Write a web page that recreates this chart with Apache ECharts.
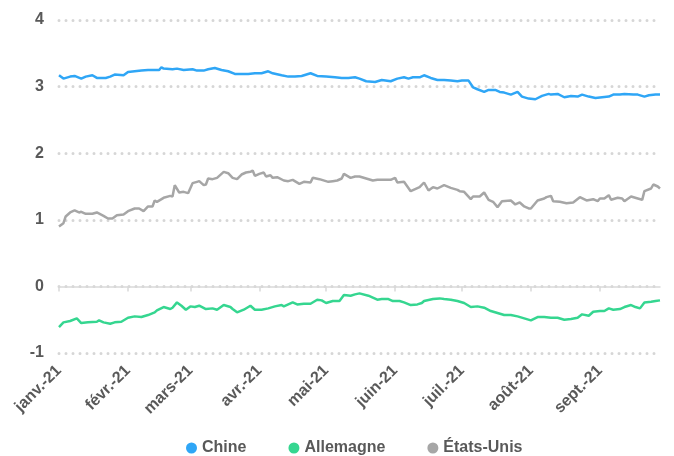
<!DOCTYPE html>
<html><head><meta charset="utf-8">
<script src="https://cdn.jsdelivr.net/npm/echarts@6/dist/echarts.min.js"></script>
<style>html,body{margin:0;padding:0;background:#fff}#c{width:674px;height:456px}</style>
</head><body><div id="c"></div>
<script>
const YEAR = 2021;
const seriesNames = ['Chine', 'Allemagne', 'États-Unis'];
const monthStarts = ['01-01','02-01','03-01','04-01','05-01','06-01','07-01','08-01','09-01'];
const tickLabels = ['janv.-21','févr.-21','mars-21','avr.-21','mai-21','juin-21','juil.-21','août-21','sept.-21'];
const xStart = '01-01', xEnd = '09-28';
const yTicks = [-1, 0, 1, 2, 3, 4];

const chineDates = ['01-01','01-03','01-06','01-08','01-11','01-13','01-16','01-18','01-22','01-24','01-26','01-30','02-01','02-04','02-07','02-10','02-13','02-15','02-16','02-17','02-21','02-23','02-26','03-02','03-04','03-07','03-09','03-12','03-15','03-18','03-21','03-24','03-27','03-30','04-02','04-05','04-07','04-11','04-14','04-17','04-20','04-24','04-27','05-01','05-05','05-08','05-11','05-14','05-16','05-19','05-23','05-26','05-30','06-02','06-05','06-07','06-09','06-12','06-14','06-17','06-20','06-23','06-26','06-29','07-01','07-04','07-06','07-08','07-11','07-13','07-16','07-18','07-20','07-23','07-26','07-28','07-31','08-03','08-06','08-09','08-10','08-13','08-16','08-19','08-22','08-24','08-27','08-30','09-02','09-05','09-07','09-10','09-12','09-16','09-18','09-21','09-23','09-26','09-28'];
const chineValues = [3.17,3.12,3.15,3.16,3.12,3.15,3.17,3.13,3.13,3.15,3.18,3.17,3.22,3.23,3.24,3.25,3.25,3.25,3.29,3.27,3.26,3.27,3.25,3.26,3.24,3.24,3.26,3.28,3.25,3.23,3.19,3.19,3.19,3.20,3.20,3.23,3.20,3.17,3.15,3.15,3.16,3.20,3.16,3.15,3.14,3.13,3.13,3.14,3.12,3.08,3.07,3.10,3.08,3.12,3.14,3.12,3.14,3.14,3.17,3.13,3.10,3.10,3.09,3.08,3.09,3.09,2.99,2.96,2.92,2.95,2.95,2.92,2.91,2.88,2.92,2.85,2.82,2.81,2.86,2.89,2.88,2.89,2.84,2.86,2.85,2.88,2.85,2.83,2.84,2.85,2.88,2.88,2.89,2.88,2.88,2.85,2.87,2.88,2.88];

const usDates = ['01-01','01-03','01-04','01-06','01-08','01-10','01-11','01-13','01-16','01-18','01-21','01-23','01-25','01-27','01-30','02-01','02-04','02-06','02-08','02-10','02-12','02-13','02-14','02-17','02-20','02-21','02-22','02-24','02-26','02-28','03-02','03-04','03-05','03-07','03-08','03-09','03-11','03-13','03-16','03-18','03-20','03-22','03-24','03-26','03-28','03-29','03-30','04-01','04-03','04-04','04-06','04-07','04-09','04-12','04-14','04-16','04-19','04-21','04-24','04-25','04-28','05-02','05-04','05-06','05-08','05-09','05-12','05-14','05-16','05-19','05-22','05-24','05-27','05-30','06-01','06-02','06-05','06-08','06-10','06-12','06-14','06-16','06-18','06-20','06-23','06-26','06-29','06-30','07-02','07-05','07-06','07-09','07-11','07-13','07-15','07-17','07-19','07-23','07-25','07-27','07-29','07-31','08-01','08-04','08-07','08-08','08-10','08-11','08-14','08-17','08-20','08-23','08-26','08-29','08-31','09-01','09-03','09-05','09-06','09-09','09-11','09-12','09-15','09-18','09-20','09-21','09-24','09-25','09-27','09-28'];
const usValues = [0.90,0.95,1.05,1.11,1.14,1.11,1.12,1.09,1.09,1.11,1.06,1.02,1.02,1.07,1.08,1.13,1.17,1.17,1.13,1.20,1.20,1.29,1.27,1.33,1.36,1.35,1.52,1.41,1.42,1.40,1.55,1.57,1.58,1.52,1.53,1.62,1.61,1.63,1.72,1.70,1.63,1.61,1.68,1.71,1.72,1.74,1.66,1.69,1.71,1.65,1.67,1.63,1.64,1.59,1.58,1.60,1.54,1.57,1.56,1.63,1.61,1.57,1.58,1.59,1.62,1.69,1.63,1.65,1.65,1.62,1.59,1.60,1.60,1.60,1.63,1.56,1.57,1.43,1.46,1.49,1.56,1.44,1.49,1.47,1.52,1.48,1.45,1.43,1.42,1.31,1.35,1.35,1.41,1.30,1.27,1.19,1.28,1.29,1.23,1.26,1.20,1.17,1.17,1.29,1.32,1.34,1.36,1.28,1.27,1.25,1.26,1.34,1.29,1.31,1.28,1.32,1.32,1.37,1.30,1.33,1.32,1.28,1.35,1.32,1.30,1.43,1.47,1.53,1.50,1.47];

const deDates = ['01-01','01-03','01-06','01-09','01-11','01-14','01-18','01-19','01-21','01-24','01-26','01-29','02-01','02-04','02-07','02-10','02-13','02-14','02-17','02-20','02-21','02-23','02-25','02-27','03-01','03-03','03-05','03-08','03-11','03-13','03-16','03-19','03-20','03-22','03-25','03-28','03-30','04-02','04-05','04-08','04-11','04-12','04-16','04-18','04-21','04-24','04-27','04-29','05-01','05-04','05-07','05-09','05-12','05-14','05-16','05-20','05-24','05-26','05-29','05-31','06-03','06-05','06-08','06-11','06-13','06-14','06-18','06-21','06-23','06-26','06-29','07-02','07-05','07-08','07-11','07-14','07-17','07-20','07-23','07-26','07-29','08-01','08-04','08-07','08-10','08-13','08-16','08-19','08-22','08-24','08-27','08-29','09-01','09-03','09-05','09-07','09-10','09-12','09-15','09-17','09-19','09-21','09-24','09-26','09-28'];
const deValues = [-0.61,-0.54,-0.52,-0.48,-0.55,-0.54,-0.53,-0.51,-0.54,-0.56,-0.54,-0.53,-0.47,-0.45,-0.46,-0.43,-0.39,-0.36,-0.31,-0.34,-0.32,-0.24,-0.29,-0.35,-0.30,-0.31,-0.29,-0.34,-0.33,-0.35,-0.28,-0.31,-0.34,-0.39,-0.35,-0.29,-0.35,-0.35,-0.33,-0.30,-0.28,-0.30,-0.24,-0.27,-0.26,-0.26,-0.20,-0.21,-0.25,-0.22,-0.22,-0.13,-0.14,-0.12,-0.105,-0.14,-0.20,-0.19,-0.19,-0.22,-0.22,-0.24,-0.28,-0.27,-0.25,-0.22,-0.19,-0.18,-0.19,-0.20,-0.22,-0.25,-0.31,-0.30,-0.32,-0.37,-0.40,-0.43,-0.43,-0.45,-0.48,-0.51,-0.46,-0.46,-0.47,-0.47,-0.50,-0.49,-0.47,-0.42,-0.44,-0.38,-0.37,-0.37,-0.33,-0.35,-0.34,-0.31,-0.28,-0.31,-0.33,-0.24,-0.23,-0.22,-0.21];

const colors = ['#2FA6F6', '#35D690', '#A6A6A6'];

function dayIndex(md) {
  const [m, d] = md.split('-').map(Number);
  return (Date.UTC(YEAR, m - 1, d) - Date.UTC(YEAR, 0, 1)) / 86400000;
}
function pairs(dates, vals) { return dates.map((d, i) => [dayIndex(d), vals[i]]); }

const tickDays = monthStarts.map(dayIndex);
const labelMap = {};
tickDays.forEach((d, i) => { labelMap[d] = tickLabels[i]; });
const FONT = '"Liberation Sans", Arial, sans-serif';
const TEXT = '#595959';

const chart = echarts.init(document.getElementById('c'), null, { renderer: 'canvas' });
chart.setOption({
  animation: false,
  color: colors,
  grid: { left: 59, right: 14, top: 20, bottom: 103, containLabel: false },
  legend: {
    top: 440, left: 186, padding: 0, icon: 'circle', itemWidth: 11, itemHeight: 11, itemGap: 42,
    textStyle: { color: TEXT, fontFamily: FONT, fontWeight: 'bold', fontSize: 16 },
    data: seriesNames
  },
  xAxis: [
    {
      type: 'value', min: dayIndex(xStart), max: dayIndex(xEnd),
      axisLine: { show: true, onZero: true, lineStyle: { color: '#D9D9D9', width: 1.5 } },
      axisTick: { show: true, length: 5, customValues: tickDays, lineStyle: { color: '#D9D9D9', width: 1.5 } },
      axisLabel: { show: false },
      splitLine: { show: false }
    },
    {
      type: 'value', position: 'bottom', min: dayIndex(xStart), max: dayIndex(xEnd),
      axisLine: { show: false, onZero: false },
      axisTick: { show: false },
      splitLine: { show: false },
      axisLabel: {
        show: true, rotate: 45, margin: 15, customValues: tickDays,
        formatter: v => labelMap[v] || '',
        color: TEXT, fontFamily: FONT, fontWeight: 'bold', fontSize: 16
      }
    }
  ],
  yAxis: {
    type: 'value', min: -1, max: 4, interval: 1,
    axisLine: { show: false }, axisTick: { show: false },
    axisLabel: { margin: 15, color: TEXT, fontFamily: FONT, fontWeight: 'bold', fontSize: 16,
      customValues: yTicks },
    splitLine: { show: true, lineStyle: { color: '#D6D6D6', width: 3, type: [0, 7], cap: 'round' } }
  },
  series: [
    { name: seriesNames[0], type: 'line', xAxisIndex: 0, data: pairs(chineDates, chineValues), showSymbol: false, lineStyle: { width: 2.5 } },
    { name: seriesNames[1], type: 'line', xAxisIndex: 0, data: pairs(deDates, deValues), showSymbol: false, lineStyle: { width: 2.5 } },
    { name: seriesNames[2], type: 'line', xAxisIndex: 0, data: pairs(usDates, usValues), showSymbol: false, lineStyle: { width: 2.5 } }
  ]
});
</script></body></html>
